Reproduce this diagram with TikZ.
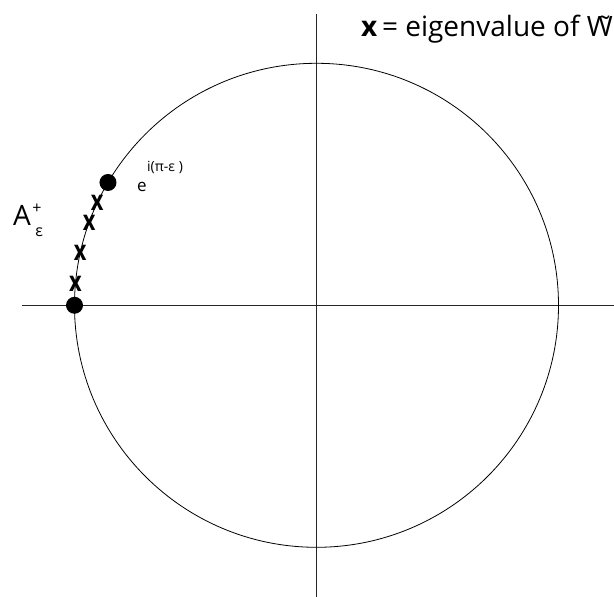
\documentclass[tikz,border=0pt]{standalone}
\usepackage{fontspec}
\setmainfont{Open Sans}
\usepackage{tikz}
\usetikzlibrary{positioning, calc}

\tikzset{
  axis/.style={line width=0.9pt, black!85},
  dot/.style={circle, fill=black, inner sep=0pt, minimum size=17pt},
  evmark/.style={inner sep=0pt, font=\fontsize{28}{28}\selectfont\bfseries},
}

\begin{document}
\begin{tikzpicture}[x=1pt, y=1pt]
  \useasboundingbox (-316.5,-291.7) rectangle (297.5,305.3);
  %% Axes and unit circle
  \draw[axis] (-294.5,0) -- (297.5,0);
  \draw[axis] (0,291.3) -- (0,-291.7);
  \draw[line width=0.8pt] (0,0) circle (242);
  %% End points of the arc
  \node[dot] (pLeft) at (180:242) {};
  \node[dot] (pTop) at (149.5:242) {};
  %% Eigenvalues on the arc
  \foreach \ang [count=\i] in {155, 160, 167.5, 175}
    \node[evmark] (ev\i) at (\ang:242) {\scalebox{0.78}[1]{x}};
  %% Labels
  \node[anchor=base west, inner sep=0pt, font=\fontsize{28}{28}\selectfont] (aLabel) at (-303.5,79.3) {A};
  \node[anchor=south west, inner sep=0pt, font=\fontsize{16}{16}\selectfont] (aPlus) at ($(aLabel.north east)+(1,-8)$) {+};
  \node[anchor=north west, inner sep=0pt, font=\fontsize{16}{16}\selectfont] (aEps) at ($(aLabel.south east)+(4,-1)$) {ε};
  \node[anchor=base west, inner sep=0pt, font=\fontsize{17}{17}\selectfont] (eBase) at (-179.5,113.3) {e};
  \node[anchor=base west, inner sep=0pt, font=\fontsize{14}{14}\selectfont] (eExp) at (-169.5,134) {i(π-ε )};
  \node[anchor=base east, inner sep=0pt, font=\fontsize{28}{28}\selectfont] (legend) at (296.5,268.3) {\textbf{x}\,= eigenvalue of \~{W}};
\end{tikzpicture}
\end{document}
